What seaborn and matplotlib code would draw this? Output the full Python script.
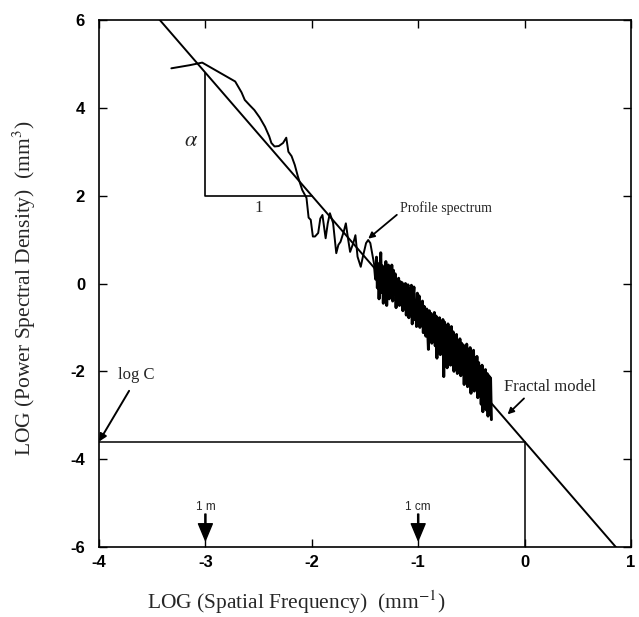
import matplotlib
matplotlib.use("Agg")
import matplotlib.pyplot as plt
import numpy as np
import pandas as pd
import seaborn as sns

# --- data -----------------------------------------------------------------
# measured profile spectrum: smooth low-frequency part
spec_x_low = [-3.32, -3.15, -3.03, -2.72, -2.66, -2.63, -2.58, -2.54, -2.49, -2.44,
              -2.40, -2.38, -2.35, -2.31, -2.27, -2.24, -2.22, -2.19, -2.16, -2.13,
              -2.09, -2.05, -2.03, -2.01, -1.99, -1.97, -1.94, -1.92, -1.90, -1.87,
              -1.85, -1.83, -1.80, -1.77, -1.75, -1.73, -1.70, -1.68, -1.66, -1.64,
              -1.61, -1.59, -1.57, -1.54, -1.52, -1.49, -1.47, -1.45, -1.43, -1.41]
spec_y_low = [4.90, 4.97, 5.03, 4.60, 4.35, 4.18, 4.05, 3.95, 3.78, 3.57,
              3.35, 3.20, 3.12, 3.13, 3.20, 3.32, 3.00, 2.90, 2.70, 2.43,
              2.13, 1.95, 1.50, 1.45, 1.07, 1.07, 1.15, 1.48, 1.56, 1.03,
              1.37, 1.60, 1.38, 0.69, 0.88, 0.95, 1.18, 1.37, 1.03, 0.72,
              0.92, 1.10, 0.61, 0.38, 0.61, 0.92, 0.99, 0.92, 0.65, 0.38]

# high-frequency part (dense, noisy)
spec_x_high = [-1.400, -1.392, -1.384, -1.376, -1.368, -1.360, -1.352, -1.344, -1.336, -1.328,
               -1.320, -1.312, -1.304, -1.296, -1.288, -1.280, -1.272, -1.264, -1.256, -1.248,
               -1.240, -1.232, -1.224, -1.216, -1.208, -1.200, -1.192, -1.184, -1.176, -1.168,
               -1.160, -1.152, -1.144, -1.136, -1.128, -1.120, -1.112, -1.104, -1.096, -1.088,
               -1.080, -1.072, -1.064, -1.056, -1.048, -1.040, -1.032, -1.024, -1.016, -1.008,
               -1.000, -0.992, -0.984, -0.976, -0.968, -0.960, -0.952, -0.944, -0.936, -0.928,
               -0.920, -0.912, -0.904, -0.896, -0.888, -0.880, -0.872, -0.864, -0.856, -0.848,
               -0.840, -0.832, -0.824, -0.816, -0.808, -0.800, -0.792, -0.784, -0.776, -0.768,
               -0.760, -0.752, -0.744, -0.736, -0.728, -0.720, -0.712, -0.704, -0.696, -0.688,
               -0.680, -0.672, -0.664, -0.656, -0.648, -0.640, -0.632, -0.624, -0.616, -0.608,
               -0.600, -0.592, -0.584, -0.576, -0.568, -0.560, -0.552, -0.544, -0.536, -0.528,
               -0.520, -0.512, -0.504, -0.496, -0.488, -0.480, -0.472, -0.464, -0.456, -0.448,
               -0.440, -0.432, -0.424, -0.416, -0.408, -0.400, -0.392, -0.384, -0.376, -0.368,
               -0.360, -0.352, -0.344, -0.336, -0.328, -0.320, -0.312]
spec_y_high = [0.10, 0.60, -0.10, 0.45, -0.35, 0.25, 0.70, -0.20, 0.40, -0.45,
               0.35, -0.25, 0.50, -0.50, 0.15, 0.42, -0.35, 0.28, -0.15, 0.42,
               -0.40, 0.30, -0.20, 0.22, -0.55, 0.08, -0.30, 0.12, -0.50, 0.04,
               -0.35, 0.02, -0.62, -0.08, -0.45, 0.00, -0.72, -0.18, -0.03, -0.78,
               -0.12, -0.62, -0.04, -0.92, -0.30, -0.08, -0.82, -0.40, -0.98, -0.22,
               -0.75, -0.28, -1.00, -0.45, -0.88, -0.40, -1.12, -0.52, -0.90, -1.20,
               -0.58, -1.00, -1.50, -0.62, -1.18, -0.68, -1.36, -0.75, -1.28, -0.66,
               -1.42, -0.74, -1.70, -0.86, -1.32, -0.78, -1.62, -0.95, -1.48, -0.82,
               -2.12, -0.88, -1.68, -1.00, -1.92, -0.92, -1.58, -1.05, -1.86, -0.98,
               -1.78, -1.10, -2.00, -1.20, -1.68, -1.16, -2.05, -1.30, -1.82, -1.26,
               -2.10, -1.36, -1.92, -1.40, -2.30, -1.45, -1.98, -1.38, -2.35, -1.50,
               -2.18, -1.46, -2.50, -1.60, -2.08, -1.52, -2.45, -1.70, -2.28, -1.66,
               -2.60, -1.80, -2.42, -1.90, -2.75, -1.86, -2.92, -2.00, -2.58, -1.96,
               -2.88, -2.05, -3.02, -2.10, -2.76, -2.15, -3.10]

# fractal model: log P = log C - alpha * log f
alpha = 2.8
log_c = -3.6
model_x = [-3.5, 0.9]

x_ticks = [-4, -3, -2, -1, 0, 1]
y_ticks = [-6, -4, -2, 0, 2, 4, 6]

scale_marks = [-3, -1]
scale_labels = ["1 m", "1 cm"]

# --- figure -----------------------------------------------------------------
sns.set_theme(style="ticks")
plt.rcParams["mathtext.fontset"] = "stix"

fig = plt.figure(figsize=(6.39, 6.17), dpi=100)
ax = fig.add_axes([99 / 639, 70 / 617, 532 / 639, 527 / 617])

# smooth part with a normal stroke, dense part heavier so it reads as a band
spec_low = pd.DataFrame({"x": spec_x_low, "y": spec_y_low})
spec_high = pd.DataFrame({"x": spec_x_low[-1:] + spec_x_high,
                          "y": spec_y_low[-1:] + spec_y_high})
sns.lineplot(data=spec_low, x="x", y="y", sort=False, estimator=None,
             color="black", lw=1.4, ax=ax)
sns.lineplot(data=spec_high, x="x", y="y", sort=False, estimator=None,
             color="black", lw=2.1, ax=ax)

model = pd.DataFrame({"x": model_x,
                      "y": [log_c - alpha * v for v in model_x]})
sns.lineplot(data=model, x="x", y="y", sort=False, estimator=None,
             color="black", lw=1.4, ax=ax)

# log C construction lines
ax.plot([-4, 0], [log_c, log_c], color="black", lw=1.1)
ax.plot([0, 0], [log_c, -6], color="black", lw=1.1)

# slope triangle
tri_x0 = -3.0
tri_y0 = 2.0
top_y = log_c - alpha * tri_x0
right_x = (log_c - tri_y0) / alpha
ax.plot([tri_x0, tri_x0, right_x], [top_y, tri_y0, tri_y0], color="black", lw=1.2)
ax.text(-3.13, 3.27, r"$\alpha$", fontsize=16, ha="center", va="center")
ax.text(-2.5, 1.72, "1", fontsize=12, ha="center", va="center",
        family="Liberation Serif")

serif = "Liberation Serif"
ax.annotate("Profile spectrum", xy=(-1.47, 1.02), xytext=(-1.17, 1.72),
            fontsize=10, family=serif, ha="left", va="center",
            arrowprops=dict(arrowstyle="-|>", color="black", lw=1.3,
                            mutation_scale=9, shrinkA=0, shrinkB=0,
                            relpos=(0, 0.2)))
ax.annotate("Fractal model", xy=(-0.16, -2.98), xytext=(-0.19, -2.36),
            fontsize=12, family=serif, ha="left", va="center",
            arrowprops=dict(arrowstyle="-|>", color="black", lw=1.3,
                            mutation_scale=9, shrinkA=0, shrinkB=0,
                            relpos=(0.25, 0)))
ax.annotate("log C", xy=(-4.0, -3.6), xytext=(-3.82, -2.08),
            fontsize=12, family=serif, ha="left", va="center",
            arrowprops=dict(arrowstyle="-|>", color="black", lw=1.4,
                            mutation_scale=11, shrinkA=0, shrinkB=0,
                            relpos=(0.3, -0.5)))

for xm, lab in zip(scale_marks, scale_labels):
    ax.annotate("", xy=(xm, -5.85), xytext=(xm, -5.25),
                arrowprops=dict(facecolor="black", edgecolor="black",
                                width=0.8, headwidth=10, headlength=12))
    ax.text(xm, -5.09, lab, fontsize=8.5, ha="center", va="center",
            family="Liberation Sans")

ax.set_xlim(-4, 1)
ax.set_ylim(-6, 6)
ax.set_xticks(x_ticks)
ax.set_yticks(y_ticks)
ax.set_xticklabels([str(t) for t in x_ticks], family="Liberation Sans",
                   fontsize=12, fontweight="bold")
ax.set_yticklabels([str(t) for t in y_ticks], family="Liberation Sans",
                   fontsize=12, fontweight="bold")
ax.tick_params(direction="in", length=6, width=1, top=True, right=True,
               colors="black")
ax.tick_params(axis="x", pad=6)
ax.tick_params(axis="y", pad=10)
for s in ax.spines.values():
    s.set_color("black")
    s.set_linewidth(1.2)

ax.set_xlabel(r"LOG (Spatial Frequency)  (mm$^{-1}$)", family=serif,
              fontsize=15.5)
ax.xaxis.set_label_coords((296 - 99) / 532, -(588 - 547) / 527)
ax.set_ylabel(r"LOG (Power Spectral Density)  (mm$^{3}$)", family=serif,
              fontsize=15.5)
ax.yaxis.set_label_coords(-(99 - 38) / 532, 0.49)

fig.savefig("out.png", dpi=100)
